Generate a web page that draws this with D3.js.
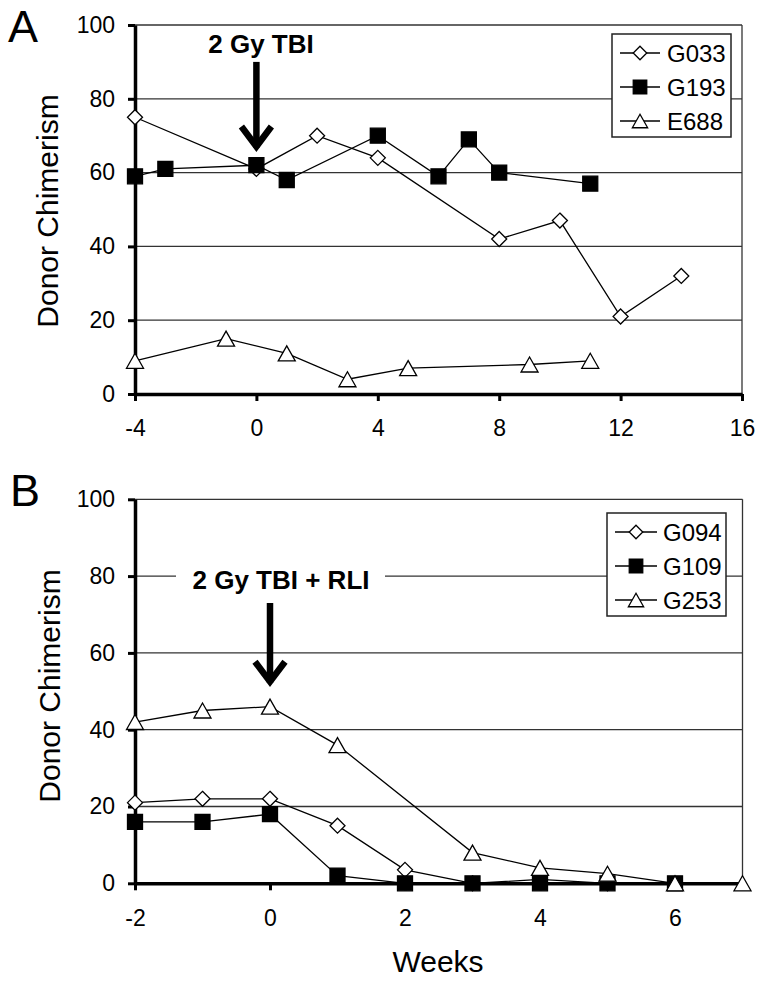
<!DOCTYPE html>
<html>
<head>
<meta charset="utf-8">
<script src="https://cdn.jsdelivr.net/npm/d3@7"></script>
<style>
  html, body { margin: 0; padding: 0; background: #fff; }
  svg { display: block; }
  text { font-family: "Liberation Sans", Arial, Helvetica, sans-serif; fill: #000; }
</style>
</head>
<body>
<svg id="chart" width="762" height="981"></svg>
<script>
// ---------------- DATA ----------------
// Panel A
const g033Weeks = [-4, 0, 2, 4, 8, 10, 12, 14];
const g033Values = [75, 61, 70, 64, 42, 47, 21, 32];
const g193Weeks = [-4, -3, 0, 1, 4, 6, 7, 8, 11];
const g193Values = [59, 61, 62, 58, 70, 59, 69, 60, 57];
const e688Weeks = [-4, -1, 1, 3, 5, 9, 11];
const e688Values = [9, 15, 11, 4, 7, 8, 9];
// Panel B
const g094Weeks = [-2, -1, 0, 1, 2, 3, 4, 5];
const g094Values = [21, 22, 22, 15, 3.5, 0, 1, 0];
const g109Weeks = [-2, -1, 0, 1, 2, 3, 4, 5, 6];
const g109Values = [16, 16, 18, 2, 0, 0, 0, 0, 0];
const g253Weeks = [-2, -1, 0, 1, 3, 4, 5, 6, 7];
const g253Values = [42, 45, 46, 36, 8, 4, 2.5, 0, 0];

const xTicksA = [-4, 0, 4, 8, 12, 16];
const xTicksB = [-2, 0, 2, 4, 6];
const yTicks = [0, 20, 40, 60, 80, 100];
const legendA = ["G033", "G193", "E688"];
const legendB = ["G094", "G109", "G253"];

// ---------------- DRAWING ----------------
const svg = d3.select("#chart");

function markerPath(type, s) {
  const p = d3.path();
  if (type === "diamond") {
    const h = 7.5 * s;
    p.moveTo(0, -h); p.lineTo(h, 0); p.lineTo(0, h); p.lineTo(-h, 0); p.closePath();
  } else if (type === "square") {
    const h = 7.5 * s;
    p.rect(-h, -h, 2 * h, 2 * h);
  } else {
    const w = 8.5 * s, hh = 7.5 * s;
    p.moveTo(0, -hh); p.lineTo(w, hh); p.lineTo(-w, hh); p.closePath();
  }
  return p.toString();
}
function markerFill(type) { return type === "square" ? "#000" : "#fff"; }

function drawPanel(cfg) {
  const g = svg.append("g");
  const x = d3.scaleLinear().domain(cfg.xDomain).range([cfg.left, cfg.right]);
  const y = d3.scaleLinear().domain([0, 100]).range([cfg.bottom, cfg.top]);

  // gridlines
  g.append("g").selectAll("line").data(yTicks.filter(d => d > 0)).join("line")
    .attr("x1", cfg.left).attr("x2", cfg.right)
    .attr("y1", d => y(d)).attr("y2", d => y(d))
    .attr("stroke", "#333").attr("stroke-width", 1.3);
  // right border
  g.append("line").attr("x1", cfg.right).attr("x2", cfg.right)
    .attr("y1", cfg.top).attr("y2", cfg.bottom)
    .attr("stroke", "#333").attr("stroke-width", 1.3);

  // axes
  const fmt = d => String(d);
  const xAxis = d3.axisBottom(x).tickValues(cfg.xTicks).tickFormat(fmt).tickSize(7).tickSizeOuter(0).tickPadding(19);
  const yAxis = d3.axisLeft(y).tickValues(yTicks).tickFormat(fmt).tickSize(7).tickSizeOuter(0).tickPadding(13);
  const gx = g.append("g").attr("transform", `translate(0,${cfg.bottom})`).call(xAxis);
  const gy = g.append("g").attr("transform", `translate(${cfg.left},0)`).call(yAxis);
  [gx, gy].forEach(a => {
    a.attr("font-size", null).attr("font-family", null);
    a.select(".domain").attr("stroke", "#000").attr("stroke-width", 3.5);
    a.selectAll(".tick line").attr("stroke", "#000").attr("stroke-width", 3);
    a.selectAll(".tick text").style("font-size", "23px")
      .style("font-family", '"Liberation Sans", Arial, sans-serif').attr("fill", "#000");
  });

  // series
  const line = d3.line().x(d => x(d[0])).y(d => y(d[1]));
  cfg.series.forEach(s => {
    const pts = s.weeks.map((w, i) => [w, s.values[i]]);
    g.append("path").attr("d", line(pts)).attr("fill", "none")
      .attr("stroke", "#000").attr("stroke-width", 1.3);
    g.append("g").selectAll("path").data(pts).join("path")
      .attr("transform", d => `translate(${x(d[0])},${y(d[1])})`)
      .attr("d", markerPath(s.type, 1))
      .attr("fill", markerFill(s.type)).attr("stroke", "#000").attr("stroke-width", 1.3);
  });

  // annotation text (with white backdrop)
  const t = cfg.note;
  if (t.bg) {
    g.append("rect").attr("x", t.bg[0]).attr("y", t.bg[1]).attr("width", t.bg[2]).attr("height", t.bg[3]).attr("fill", "#fff");
  }
  g.append("text").attr("x", t.x).attr("y", t.y).attr("text-anchor", "middle")
    .style("font-size", "26px").attr("font-weight", "bold").text(t.label);

  // arrow
  const ax = x(0), yTop = y(cfg.arrow[0]), yTip = y(cfg.arrow[1]);
  g.append("line").attr("x1", ax).attr("x2", ax).attr("y1", yTop).attr("y2", yTip - 4)
    .attr("stroke", "#000").attr("stroke-width", 6.5);
  const tipY = yTip - 5;
  g.append("path")
    .attr("d", `M${ax - 15},${tipY - 20}L${ax},${tipY}L${ax + 15},${tipY - 20}`)
    .attr("fill", "none").attr("stroke", "#000").attr("stroke-width", 6.5)
    .attr("stroke-linejoin", "miter").attr("stroke-miterlimit", 10);

  // legend
  const L = cfg.legend;
  g.append("rect").attr("x", L.x).attr("y", L.y).attr("width", L.w).attr("height", L.h)
    .attr("fill", "#fff").attr("stroke", "#222").attr("stroke-width", 1.5);
  cfg.series.forEach((s, i) => {
    const ly = L.rows[i];
    g.append("line").attr("x1", L.lx1).attr("x2", L.lx2).attr("y1", ly).attr("y2", ly)
      .attr("stroke", "#000").attr("stroke-width", 1.3);
    g.append("path").attr("transform", `translate(${(L.lx1 + L.lx2) / 2},${ly})`)
      .attr("d", markerPath(s.type, 0.9))
      .attr("fill", markerFill(s.type)).attr("stroke", "#000").attr("stroke-width", 1.3);
    g.append("text").attr("x", L.tx).attr("y", ly + 8.5).style("font-size", "24px").text(cfg.names[i]);
  });

  // y label
  g.append("text").attr("transform", `translate(${cfg.ylab[0]},${cfg.ylab[1]}) rotate(-90)`)
    .attr("text-anchor", "middle").style("font-size", "30px").text("Donor Chimerism");

  // panel letter
  g.append("text").attr("x", cfg.letter[0]).attr("y", cfg.letter[1])
    .style("font-size", "45px").text(cfg.letter[2]);
}

drawPanel({
  left: 135, right: 742, top: 25, bottom: 394,
  xDomain: [-4, 16], xTicks: xTicksA,
  series: [
    { weeks: g033Weeks, values: g033Values, type: "diamond" },
    { weeks: g193Weeks, values: g193Values, type: "square" },
    { weeks: e688Weeks, values: e688Values, type: "triangle" }
  ],
  names: legendA,
  note: { label: "2 Gy TBI", x: 261, y: 53 },
  arrow: [90, 65.7],
  legend: { x: 612, y: 34, w: 119, h: 103, rows: [53, 87, 121], lx1: 620, lx2: 660, tx: 667 },
  ylab: [58, 211],
  letter: [8, 42, "A"]
});

drawPanel({
  left: 135, right: 742.5, top: 499.3, bottom: 883.3,
  xDomain: [-2, 7], xTicks: xTicksB,
  series: [
    { weeks: g094Weeks, values: g094Values, type: "diamond" },
    { weeks: g109Weeks, values: g109Values, type: "square" },
    { weeks: g253Weeks, values: g253Values, type: "triangle" }
  ],
  names: legendB,
  note: { label: "2 Gy TBI + RLI", x: 281, y: 589, bg: [176, 565, 209, 30] },
  arrow: [73, 51.2],
  legend: { x: 607, y: 513, w: 119, h: 103, rows: [532, 566, 600], lx1: 615, lx2: 657, tx: 663 },
  ylab: [60, 686],
  letter: [10, 506, "B"]
});

svg.append("text").attr("x", 438).attr("y", 972).attr("text-anchor", "middle")
  .style("font-size", "30px").text("Weeks");
</script>
</body>
</html>
